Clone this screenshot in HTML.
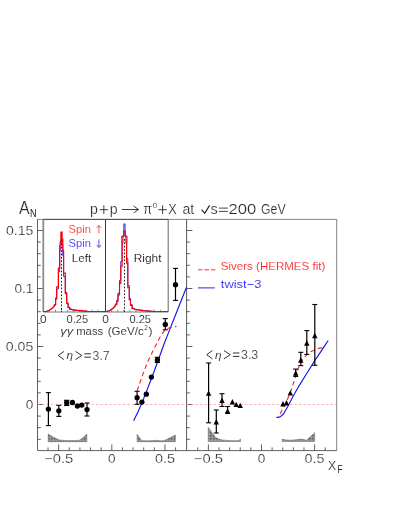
<!DOCTYPE html>
<html><head><meta charset="utf-8"><title>A_N</title>
<style>
html,body{margin:0;padding:0;background:#fff;}
body{width:403px;height:522px;overflow:hidden;}
svg{display:block;will-change:transform;}
text{font-family:"Liberation Sans",sans-serif;}
</style></head><body>
<svg width="403" height="522" viewBox="0 0 403 522">
<rect width="403" height="522" fill="#fff"/>
<g fill="none" stroke-linecap="butt">
<line x1="37.50" y1="219.40" x2="336.70" y2="219.40" stroke="#555" stroke-width="0.7" />
<line x1="37.50" y1="450.60" x2="336.70" y2="450.60" stroke="#3a3a3a" stroke-width="0.8" />
<line x1="37.50" y1="219.40" x2="37.50" y2="450.60" stroke="#3a3a3a" stroke-width="0.8" />
<line x1="186.60" y1="219.40" x2="186.60" y2="450.60" stroke="#3a3a3a" stroke-width="0.85" />
<line x1="336.70" y1="219.40" x2="336.70" y2="450.60" stroke="#555" stroke-width="0.75" />
<line x1="37.50" y1="439.30" x2="40.80" y2="439.30" stroke="#3a3a3a" stroke-width="0.8" />
<line x1="37.50" y1="427.70" x2="40.80" y2="427.70" stroke="#3a3a3a" stroke-width="0.8" />
<line x1="37.50" y1="416.10" x2="40.80" y2="416.10" stroke="#3a3a3a" stroke-width="0.8" />
<line x1="37.50" y1="404.50" x2="43.30" y2="404.50" stroke="#3a3a3a" stroke-width="0.8" />
<line x1="37.50" y1="392.90" x2="40.80" y2="392.90" stroke="#3a3a3a" stroke-width="0.8" />
<line x1="37.50" y1="381.30" x2="40.80" y2="381.30" stroke="#3a3a3a" stroke-width="0.8" />
<line x1="37.50" y1="369.70" x2="40.80" y2="369.70" stroke="#3a3a3a" stroke-width="0.8" />
<line x1="37.50" y1="358.10" x2="40.80" y2="358.10" stroke="#3a3a3a" stroke-width="0.8" />
<line x1="37.50" y1="346.50" x2="43.30" y2="346.50" stroke="#3a3a3a" stroke-width="0.8" />
<line x1="37.50" y1="334.90" x2="40.80" y2="334.90" stroke="#3a3a3a" stroke-width="0.8" />
<line x1="37.50" y1="323.30" x2="40.80" y2="323.30" stroke="#3a3a3a" stroke-width="0.8" />
<line x1="37.50" y1="311.70" x2="40.80" y2="311.70" stroke="#3a3a3a" stroke-width="0.8" />
<line x1="37.50" y1="300.10" x2="40.80" y2="300.10" stroke="#3a3a3a" stroke-width="0.8" />
<line x1="37.50" y1="288.50" x2="43.30" y2="288.50" stroke="#3a3a3a" stroke-width="0.8" />
<line x1="37.50" y1="276.90" x2="40.80" y2="276.90" stroke="#3a3a3a" stroke-width="0.8" />
<line x1="37.50" y1="265.30" x2="40.80" y2="265.30" stroke="#3a3a3a" stroke-width="0.8" />
<line x1="37.50" y1="253.70" x2="40.80" y2="253.70" stroke="#3a3a3a" stroke-width="0.8" />
<line x1="37.50" y1="242.10" x2="40.80" y2="242.10" stroke="#3a3a3a" stroke-width="0.8" />
<line x1="37.50" y1="230.50" x2="43.30" y2="230.50" stroke="#3a3a3a" stroke-width="0.8" />
<line x1="186.60" y1="439.30" x2="189.90" y2="439.30" stroke="#3a3a3a" stroke-width="0.8" />
<line x1="186.60" y1="427.70" x2="189.90" y2="427.70" stroke="#3a3a3a" stroke-width="0.8" />
<line x1="186.60" y1="416.10" x2="189.90" y2="416.10" stroke="#3a3a3a" stroke-width="0.8" />
<line x1="186.60" y1="404.50" x2="192.40" y2="404.50" stroke="#3a3a3a" stroke-width="0.8" />
<line x1="186.60" y1="392.90" x2="189.90" y2="392.90" stroke="#3a3a3a" stroke-width="0.8" />
<line x1="186.60" y1="381.30" x2="189.90" y2="381.30" stroke="#3a3a3a" stroke-width="0.8" />
<line x1="186.60" y1="369.70" x2="189.90" y2="369.70" stroke="#3a3a3a" stroke-width="0.8" />
<line x1="186.60" y1="358.10" x2="189.90" y2="358.10" stroke="#3a3a3a" stroke-width="0.8" />
<line x1="186.60" y1="346.50" x2="192.40" y2="346.50" stroke="#3a3a3a" stroke-width="0.8" />
<line x1="186.60" y1="334.90" x2="189.90" y2="334.90" stroke="#3a3a3a" stroke-width="0.8" />
<line x1="186.60" y1="323.30" x2="189.90" y2="323.30" stroke="#3a3a3a" stroke-width="0.8" />
<line x1="186.60" y1="311.70" x2="189.90" y2="311.70" stroke="#3a3a3a" stroke-width="0.8" />
<line x1="186.60" y1="300.10" x2="189.90" y2="300.10" stroke="#3a3a3a" stroke-width="0.8" />
<line x1="186.60" y1="288.50" x2="192.40" y2="288.50" stroke="#3a3a3a" stroke-width="0.8" />
<line x1="186.60" y1="276.90" x2="189.90" y2="276.90" stroke="#3a3a3a" stroke-width="0.8" />
<line x1="186.60" y1="265.30" x2="189.90" y2="265.30" stroke="#3a3a3a" stroke-width="0.8" />
<line x1="186.60" y1="253.70" x2="189.90" y2="253.70" stroke="#3a3a3a" stroke-width="0.8" />
<line x1="186.60" y1="242.10" x2="189.90" y2="242.10" stroke="#3a3a3a" stroke-width="0.8" />
<line x1="186.60" y1="230.50" x2="192.40" y2="230.50" stroke="#3a3a3a" stroke-width="0.8" />
<line x1="48.02" y1="450.60" x2="48.02" y2="447.40" stroke="#3a3a3a" stroke-width="0.8" />
<line x1="58.65" y1="450.60" x2="58.65" y2="444.40" stroke="#3a3a3a" stroke-width="0.8" />
<line x1="69.28" y1="450.60" x2="69.28" y2="447.40" stroke="#3a3a3a" stroke-width="0.8" />
<line x1="79.91" y1="450.60" x2="79.91" y2="447.40" stroke="#3a3a3a" stroke-width="0.8" />
<line x1="90.54" y1="450.60" x2="90.54" y2="447.40" stroke="#3a3a3a" stroke-width="0.8" />
<line x1="101.17" y1="450.60" x2="101.17" y2="447.40" stroke="#3a3a3a" stroke-width="0.8" />
<line x1="111.80" y1="450.60" x2="111.80" y2="444.40" stroke="#3a3a3a" stroke-width="0.8" />
<line x1="122.43" y1="450.60" x2="122.43" y2="447.40" stroke="#3a3a3a" stroke-width="0.8" />
<line x1="133.06" y1="450.60" x2="133.06" y2="447.40" stroke="#3a3a3a" stroke-width="0.8" />
<line x1="143.69" y1="450.60" x2="143.69" y2="447.40" stroke="#3a3a3a" stroke-width="0.8" />
<line x1="154.32" y1="450.60" x2="154.32" y2="447.40" stroke="#3a3a3a" stroke-width="0.8" />
<line x1="164.95" y1="450.60" x2="164.95" y2="444.40" stroke="#3a3a3a" stroke-width="0.8" />
<line x1="175.58" y1="450.60" x2="175.58" y2="447.40" stroke="#3a3a3a" stroke-width="0.8" />
<line x1="197.78" y1="450.60" x2="197.78" y2="447.40" stroke="#3a3a3a" stroke-width="0.8" />
<line x1="208.40" y1="450.60" x2="208.40" y2="444.40" stroke="#3a3a3a" stroke-width="0.8" />
<line x1="219.02" y1="450.60" x2="219.02" y2="447.40" stroke="#3a3a3a" stroke-width="0.8" />
<line x1="229.64" y1="450.60" x2="229.64" y2="447.40" stroke="#3a3a3a" stroke-width="0.8" />
<line x1="240.26" y1="450.60" x2="240.26" y2="447.40" stroke="#3a3a3a" stroke-width="0.8" />
<line x1="250.88" y1="450.60" x2="250.88" y2="447.40" stroke="#3a3a3a" stroke-width="0.8" />
<line x1="261.50" y1="450.60" x2="261.50" y2="444.40" stroke="#3a3a3a" stroke-width="0.8" />
<line x1="272.12" y1="450.60" x2="272.12" y2="447.40" stroke="#3a3a3a" stroke-width="0.8" />
<line x1="282.74" y1="450.60" x2="282.74" y2="447.40" stroke="#3a3a3a" stroke-width="0.8" />
<line x1="293.36" y1="450.60" x2="293.36" y2="447.40" stroke="#3a3a3a" stroke-width="0.8" />
<line x1="303.98" y1="450.60" x2="303.98" y2="447.40" stroke="#3a3a3a" stroke-width="0.8" />
<line x1="314.60" y1="450.60" x2="314.60" y2="444.40" stroke="#3a3a3a" stroke-width="0.8" />
<line x1="325.22" y1="450.60" x2="325.22" y2="447.40" stroke="#3a3a3a" stroke-width="0.8" />
</g>
<line x1="37.50" y1="404.50" x2="186.60" y2="404.50" stroke="#f89090" stroke-width="0.7" stroke-dasharray="2.25 2.25"/>
<line x1="186.60" y1="404.50" x2="336.70" y2="404.50" stroke="#f89090" stroke-width="0.7" stroke-dasharray="2.25 2.25"/>
<rect x="43.3" y="219.4" width="124.89999999999999" height="92.6" fill="#fff" stroke="none"/>
<line x1="43.30" y1="219.40" x2="43.30" y2="312.00" stroke="#8c8c8c" stroke-width="1.8" />
<line x1="168.20" y1="219.40" x2="168.20" y2="312.00" stroke="#555" stroke-width="0.9" />
<line x1="105.50" y1="219.40" x2="105.50" y2="312.00" stroke="#222" stroke-width="0.9" />
<line x1="43.30" y1="312.00" x2="168.20" y2="312.00" stroke="#555" stroke-width="0.8" />
<line x1="43.30" y1="219.40" x2="168.20" y2="219.40" stroke="#333" stroke-width="0.9" />
<line x1="49.40" y1="312.00" x2="49.40" y2="309.60" stroke="#555" stroke-width="0.6" />
<line x1="55.50" y1="312.00" x2="55.50" y2="309.60" stroke="#555" stroke-width="0.6" />
<line x1="61.60" y1="312.00" x2="61.60" y2="309.60" stroke="#555" stroke-width="0.6" />
<line x1="67.70" y1="312.00" x2="67.70" y2="309.60" stroke="#555" stroke-width="0.6" />
<line x1="73.80" y1="312.00" x2="73.80" y2="308.80" stroke="#555" stroke-width="0.6" />
<line x1="79.90" y1="312.00" x2="79.90" y2="309.60" stroke="#555" stroke-width="0.6" />
<line x1="86.00" y1="312.00" x2="86.00" y2="309.60" stroke="#555" stroke-width="0.6" />
<line x1="92.10" y1="312.00" x2="92.10" y2="309.60" stroke="#555" stroke-width="0.6" />
<line x1="98.20" y1="312.00" x2="98.20" y2="309.60" stroke="#555" stroke-width="0.6" />
<line x1="111.60" y1="312.00" x2="111.60" y2="309.60" stroke="#555" stroke-width="0.6" />
<line x1="117.70" y1="312.00" x2="117.70" y2="309.60" stroke="#555" stroke-width="0.6" />
<line x1="123.80" y1="312.00" x2="123.80" y2="309.60" stroke="#555" stroke-width="0.6" />
<line x1="129.90" y1="312.00" x2="129.90" y2="309.60" stroke="#555" stroke-width="0.6" />
<line x1="136.00" y1="312.00" x2="136.00" y2="308.80" stroke="#555" stroke-width="0.6" />
<line x1="142.10" y1="312.00" x2="142.10" y2="309.60" stroke="#555" stroke-width="0.6" />
<line x1="148.20" y1="312.00" x2="148.20" y2="309.60" stroke="#555" stroke-width="0.6" />
<line x1="154.30" y1="312.00" x2="154.30" y2="309.60" stroke="#555" stroke-width="0.6" />
<line x1="160.40" y1="312.00" x2="160.40" y2="309.60" stroke="#555" stroke-width="0.6" />
<clipPath id="ci"><rect x="43.3" y="217.4" width="124.89999999999999" height="95.39999999999999"/></clipPath>
<g clip-path="url(#ci)" fill="none" stroke-linejoin="miter">
<path d="M43.30,311.50 L46.00,311.50 L48.30,310.77 L49.90,309.94 L51.90,308.75 L54.10,306.93 L54.40,305.19 L55.60,305.19 L55.60,299.33 L56.70,299.33 L56.70,288.99 L58.40,288.99 L58.40,271.70 L59.70,271.70 L59.70,250.65 L60.20,250.65 L60.20,248.09 L60.90,248.09 L60.90,238.76 L62.10,238.76 L62.10,245.16 L62.80,245.16 L62.80,255.69 L63.60,255.69 L63.60,276.46 L65.30,276.46 L65.30,294.12 L66.70,294.12 L66.70,303.72 L68.10,303.72 L68.10,307.75 L69.70,307.75 L69.70,309.30 L71.10,309.30 L73.00,309.94 L77.80,310.49 L82.50,310.95 L88.50,311.50 L105.50,311.50" stroke="#2020ff" stroke-width="0.95"/>
<path d="M43.30,311.50 L46.00,311.50 L48.30,310.70 L49.90,309.80 L51.90,308.50 L54.10,306.50 L54.40,304.60 L55.60,304.60 L55.60,298.20 L56.70,298.20 L56.70,286.90 L58.40,286.90 L58.40,268.00 L59.70,268.00 L59.70,245.00 L60.20,245.00 L60.20,242.20 L60.90,242.20 L60.90,232.00 L62.10,232.00 L62.10,239.00 L62.80,239.00 L62.80,250.50 L63.60,250.50 L63.60,273.20 L65.30,273.20 L65.30,292.50 L66.70,292.50 L66.70,303.00 L68.10,303.00 L68.10,307.40 L69.70,307.40 L69.70,309.10 L71.10,309.10 L73.00,309.80 L77.80,310.40 L82.50,310.90 L88.50,311.50 L105.50,311.50" stroke="#ff0000" stroke-width="1.2"/>
<path d="M105.50,311.50 L106.20,311.50 L108.70,310.80 L110.50,309.90 L112.70,308.10 L114.90,305.90 L115.60,303.70 L116.80,303.70 L116.80,300.20 L118.00,300.20 L118.00,293.10 L119.50,293.10 L119.50,280.50 L120.80,280.50 L120.80,261.30 L122.10,261.30 L122.10,242.50 L121.80,242.50 L121.80,236.00 L123.90,236.00 L123.90,223.90 L125.05,223.90 L125.05,236.00 L127.00,236.00 L127.00,242.50 L126.60,242.50 L126.60,258.50 L127.80,258.50 L127.80,285.50 L129.30,285.50 L129.30,298.50 L130.50,298.50 L130.50,304.60 L132.10,304.60 L132.10,308.20 L133.50,308.20 L135.20,309.20 L140.00,310.10 L145.50,310.80 L154.50,311.50 L168.20,311.50" stroke="#2020ff" stroke-width="0.95"/>
<path d="M105.50,311.50 L106.50,311.50 L109.00,310.90 L110.80,310.10 L113.00,308.50 L115.10,306.50 L115.60,304.60 L116.80,304.60 L116.80,301.40 L118.00,301.40 L118.00,294.90 L119.50,294.90 L119.50,283.30 L120.80,283.30 L120.80,266.10 L122.10,266.10 L122.10,242.10 L122.90,242.10 L122.90,236.50 L123.60,236.50 L123.60,231.10 L125.30,231.10 L125.30,236.50 L125.90,236.50 L125.90,242.50 L126.60,242.50 L126.60,263.20 L127.80,263.20 L127.80,287.70 L129.30,287.70 L129.30,299.80 L130.50,299.80 L130.50,305.40 L132.10,305.40 L132.10,308.60 L133.50,308.60 L135.00,309.40 L139.80,310.20 L145.50,310.80 L154.50,311.50 L168.20,311.50" stroke="#ff0000" stroke-width="1.2"/>
</g>
<line x1="61.50" y1="240.00" x2="61.50" y2="312.00" stroke="#222" stroke-width="1.0" stroke-dasharray="1.7 1.7"/>
<line x1="124.50" y1="239.00" x2="124.50" y2="312.00" stroke="#222" stroke-width="1.0" stroke-dasharray="1.7 1.7"/>
<text x="68.60" y="233.30" font-size="11.4" fill="#ff3030" text-anchor="start" textLength="22.30" lengthAdjust="spacingAndGlyphs"  stroke="#fff" stroke-width="0.1">Spin</text>
<text x="68.60" y="247.30" font-size="11.4" fill="#3030ff" text-anchor="start" textLength="22.30" lengthAdjust="spacingAndGlyphs"  stroke="#fff" stroke-width="0.1">Spin</text>
<text x="71.70" y="261.60" font-size="11.3" fill="#151515" text-anchor="start" textLength="19.50" lengthAdjust="spacingAndGlyphs"  stroke="#fff" stroke-width="0.1">Left</text>
<text x="133.70" y="261.50" font-size="11.3" fill="#151515" text-anchor="start" textLength="27.80" lengthAdjust="spacingAndGlyphs"  stroke="#fff" stroke-width="0.1">Right</text>
<g stroke="#ff4040" stroke-width="0.9" fill="none">
<line x1="98.9" y1="225.3" x2="98.9" y2="233.4"/>
<path d="M96.7,227.9 L98.9,225.3 L101.10000000000001,227.9"/>
</g>
<g stroke="#4040ff" stroke-width="0.9" fill="none">
<line x1="98.9" y1="239.3" x2="98.9" y2="247.5"/>
<path d="M96.7,244.9 L98.9,247.5 L101.10000000000001,244.9"/>
</g>
<text x="43.20" y="322.50" font-size="10.4" fill="#262626" text-anchor="middle" textLength="6.60" lengthAdjust="spacingAndGlyphs"  stroke="#fff" stroke-width="0.1">0</text>
<text x="77.30" y="322.50" font-size="10.4" fill="#262626" text-anchor="middle" textLength="21.60" lengthAdjust="spacingAndGlyphs"  stroke="#fff" stroke-width="0.1">0.25</text>
<text x="105.60" y="322.50" font-size="10.4" fill="#262626" text-anchor="middle" textLength="6.60" lengthAdjust="spacingAndGlyphs"  stroke="#fff" stroke-width="0.1">0</text>
<text x="140.20" y="322.50" font-size="10.4" fill="#262626" text-anchor="middle" textLength="21.60" lengthAdjust="spacingAndGlyphs"  stroke="#fff" stroke-width="0.1">0.25</text>
<text x="60.30" y="334.50" font-size="10.6" fill="#262626" text-anchor="start" textLength="13.00" lengthAdjust="spacingAndGlyphs" font-style="italic" stroke="#fff" stroke-width="0.1">γγ</text>
<text x="76.20" y="334.50" font-size="10.6" fill="#262626" text-anchor="start" textLength="27.00" lengthAdjust="spacingAndGlyphs"  stroke="#fff" stroke-width="0.1">mass</text>
<text x="107.70" y="334.50" font-size="10.6" fill="#262626" text-anchor="start" textLength="36.00" lengthAdjust="spacingAndGlyphs"  stroke="#fff" stroke-width="0.1">(GeV/c</text>
<text x="144.20" y="330.30" font-size="6.4" fill="#262626" text-anchor="start" textLength="3.60" lengthAdjust="spacingAndGlyphs"  stroke="#fff" stroke-width="0.1">2</text>
<text x="148.60" y="334.50" font-size="10.6" fill="#262626" text-anchor="start" textLength="4.00" lengthAdjust="spacingAndGlyphs"  stroke="#fff" stroke-width="0.1">)</text>
<g stroke="#262626" stroke-width="0.95" fill="none" stroke-linejoin="miter">
<path d="M63.90,351.40 L58.20,355.50 L63.90,359.60"/>
<path d="M75.50,351.40 L81.80,355.50 L75.50,359.60"/>
<path d="M84.40,353.80 H90.90 M84.40,357.20 H90.90"/>
</g>
<text x="66.50" y="359.30" font-size="11.0" fill="#262626" text-anchor="start" textLength="6.60" lengthAdjust="spacingAndGlyphs" font-style="italic" stroke="#fff" stroke-width="0.1">η</text>
<text x="92.50" y="359.60" font-size="12.0" fill="#262626" text-anchor="start" textLength="17.20" lengthAdjust="spacingAndGlyphs"  stroke="#fff" stroke-width="0.22">3.7</text>
<g stroke="#262626" stroke-width="0.95" fill="none" stroke-linejoin="miter">
<path d="M212.40,350.60 L206.70,354.70 L212.40,358.80"/>
<path d="M224.00,350.60 L230.30,354.70 L224.00,358.80"/>
<path d="M232.90,353.00 H239.40 M232.90,356.40 H239.40"/>
</g>
<text x="215.00" y="358.50" font-size="11.0" fill="#262626" text-anchor="start" textLength="6.60" lengthAdjust="spacingAndGlyphs" font-style="italic" stroke="#fff" stroke-width="0.1">η</text>
<text x="241.00" y="358.80" font-size="12.0" fill="#262626" text-anchor="start" textLength="17.20" lengthAdjust="spacingAndGlyphs"  stroke="#fff" stroke-width="0.22">3.3</text>
<line x1="197.90" y1="269.80" x2="215.40" y2="269.80" stroke="#ff3030" stroke-width="1.0" stroke-dasharray="4.6 1.9"/>
<text x="220.80" y="269.80" font-size="11.0" fill="#ff2020" text-anchor="start" textLength="104.50" lengthAdjust="spacingAndGlyphs"  stroke="#fff" stroke-width="0.1">Sivers (HERMES fit)</text>
<line x1="197.90" y1="287.90" x2="214.80" y2="287.90" stroke="#2828e8" stroke-width="1.0" />
<text x="220.80" y="288.30" font-size="11.0" fill="#2020ff" text-anchor="start" textLength="40.60" lengthAdjust="spacingAndGlyphs"  stroke="#fff" stroke-width="0.1">twist−3</text>
<path d="M133.6,420.7 L137.9,412.0 L141.9,402.9 L146.4,391.6 L150.9,380.0 L157.4,362.5 L163.4,345.8 L169.0,331.4 L175.0,316.3 L186.5,287.3" fill="none" stroke="#0c0cf4" stroke-width="1.1" stroke-linejoin="round" />
<path d="M137.1,390.9 L142.2,376.2 L147.4,362.4 L153.4,350.0 L157.4,342.2 L161.0,335.3 L165.2,329.6 L170.0,327.6 L176.5,326.4" fill="none" stroke="#ff2020" stroke-width="1.1" stroke-linejoin="round" stroke-dasharray="4.6 3.2"/>
<path d="M276.2,417.2 L278.2,417.4 L280.2,416.8 L283.4,414.0 L287.9,406.2 L293.8,395.0 L299.8,384.6 L307.2,372.7 L314.9,360.4 L321.0,351.4 L328.2,340.5" fill="none" stroke="#0c0cf4" stroke-width="1.1" stroke-linejoin="round" />
<path d="M280.1,413.9 L284.9,404.7 L290.1,393.5 L295.3,377.4 L298.4,368.0 L301.5,361.5 L304.5,357.0 L310.6,351.7 L318.3,348.4 L325.5,347.0" fill="none" stroke="#ff2020" stroke-width="1.1" stroke-linejoin="round" stroke-dasharray="4.6 3.2"/>
<line x1="48.40" y1="392.60" x2="48.40" y2="425.60" stroke="#000" stroke-width="1.2" />
<line x1="45.90" y1="392.60" x2="50.90" y2="392.60" stroke="#000" stroke-width="1.1" />
<line x1="45.90" y1="425.60" x2="50.90" y2="425.60" stroke="#000" stroke-width="1.1" />
<line x1="58.80" y1="405.30" x2="58.80" y2="416.40" stroke="#000" stroke-width="1.2" />
<line x1="56.30" y1="405.30" x2="61.30" y2="405.30" stroke="#000" stroke-width="1.1" />
<line x1="56.30" y1="416.40" x2="61.30" y2="416.40" stroke="#000" stroke-width="1.1" />
<line x1="66.70" y1="400.30" x2="66.70" y2="405.50" stroke="#000" stroke-width="1.2" />
<line x1="64.00" y1="400.30" x2="69.40" y2="400.30" stroke="#000" stroke-width="1.1" />
<line x1="64.00" y1="405.50" x2="69.40" y2="405.50" stroke="#000" stroke-width="1.1" />
<line x1="87.00" y1="403.00" x2="87.00" y2="416.00" stroke="#000" stroke-width="1.2" />
<line x1="84.50" y1="403.00" x2="89.50" y2="403.00" stroke="#000" stroke-width="1.1" />
<line x1="84.50" y1="416.00" x2="89.50" y2="416.00" stroke="#000" stroke-width="1.1" />
<circle cx="48.4" cy="409.1" r="2.65" fill="#000"/>
<circle cx="58.8" cy="410.8" r="2.65" fill="#000"/>
<circle cx="66.7" cy="402.7" r="2.65" fill="#000"/>
<circle cx="72.4" cy="402.5" r="2.65" fill="#000"/>
<circle cx="77.4" cy="406.0" r="2.65" fill="#000"/>
<circle cx="81.8" cy="405.1" r="2.65" fill="#000"/>
<circle cx="87.0" cy="409.6" r="2.65" fill="#000"/>
<line x1="137.10" y1="391.30" x2="137.10" y2="404.30" stroke="#000" stroke-width="1.2" />
<line x1="134.60" y1="391.30" x2="139.60" y2="391.30" stroke="#000" stroke-width="1.1" />
<line x1="134.60" y1="404.30" x2="139.60" y2="404.30" stroke="#000" stroke-width="1.1" />
<line x1="157.40" y1="357.30" x2="157.40" y2="362.50" stroke="#000" stroke-width="1.2" />
<line x1="154.70" y1="357.30" x2="160.10" y2="357.30" stroke="#000" stroke-width="1.1" />
<line x1="154.70" y1="362.50" x2="160.10" y2="362.50" stroke="#000" stroke-width="1.1" />
<line x1="165.30" y1="318.60" x2="165.30" y2="329.80" stroke="#000" stroke-width="1.2" />
<line x1="162.80" y1="318.60" x2="167.80" y2="318.60" stroke="#000" stroke-width="1.1" />
<line x1="162.80" y1="329.80" x2="167.80" y2="329.80" stroke="#000" stroke-width="1.1" />
<line x1="175.50" y1="268.40" x2="175.50" y2="300.40" stroke="#000" stroke-width="1.2" />
<line x1="173.00" y1="268.40" x2="178.00" y2="268.40" stroke="#000" stroke-width="1.1" />
<line x1="173.00" y1="300.40" x2="178.00" y2="300.40" stroke="#000" stroke-width="1.1" />
<circle cx="137.1" cy="397.7" r="2.65" fill="#000"/>
<circle cx="141.9" cy="402.1" r="2.65" fill="#000"/>
<circle cx="146.3" cy="394.2" r="2.65" fill="#000"/>
<circle cx="151.4" cy="377.1" r="2.65" fill="#000"/>
<circle cx="157.4" cy="359.9" r="2.65" fill="#000"/>
<circle cx="165.3" cy="324.4" r="2.65" fill="#000"/>
<circle cx="175.5" cy="284.7" r="2.65" fill="#000"/>
<line x1="208.60" y1="363.00" x2="208.60" y2="422.80" stroke="#000" stroke-width="1.2" />
<line x1="206.10" y1="363.00" x2="211.10" y2="363.00" stroke="#000" stroke-width="1.1" />
<line x1="206.10" y1="422.80" x2="211.10" y2="422.80" stroke="#000" stroke-width="1.1" />
<line x1="216.30" y1="410.00" x2="216.30" y2="433.00" stroke="#000" stroke-width="1.2" />
<line x1="213.80" y1="410.00" x2="218.80" y2="410.00" stroke="#000" stroke-width="1.1" />
<line x1="213.80" y1="433.00" x2="218.80" y2="433.00" stroke="#000" stroke-width="1.1" />
<line x1="222.00" y1="393.70" x2="222.00" y2="406.50" stroke="#000" stroke-width="1.2" />
<line x1="219.50" y1="393.70" x2="224.50" y2="393.70" stroke="#000" stroke-width="1.1" />
<line x1="219.50" y1="406.50" x2="224.50" y2="406.50" stroke="#000" stroke-width="1.1" />
<line x1="227.60" y1="406.50" x2="227.60" y2="413.40" stroke="#000" stroke-width="1.2" />
<line x1="225.10" y1="406.50" x2="230.10" y2="406.50" stroke="#000" stroke-width="1.1" />
<line x1="225.10" y1="413.40" x2="230.10" y2="413.40" stroke="#000" stroke-width="1.1" />
<path d="M205.90,395.80 L211.30,395.80 L208.60,390.40 Z" fill="#000"/>
<path d="M213.60,424.50 L219.00,424.50 L216.30,419.10 Z" fill="#000"/>
<path d="M219.30,402.90 L224.70,402.90 L222.00,397.50 Z" fill="#000"/>
<path d="M224.90,413.60 L230.30,413.60 L227.60,408.20 Z" fill="#000"/>
<path d="M229.70,404.40 L235.10,404.40 L232.40,399.00 Z" fill="#000"/>
<path d="M233.50,407.10 L238.90,407.10 L236.20,401.70 Z" fill="#000"/>
<path d="M237.50,408.10 L242.90,408.10 L240.20,402.70 Z" fill="#000"/>
<line x1="295.70" y1="369.10" x2="295.70" y2="376.40" stroke="#000" stroke-width="1.2" />
<line x1="293.20" y1="369.10" x2="298.20" y2="369.10" stroke="#000" stroke-width="1.1" />
<line x1="293.20" y1="376.40" x2="298.20" y2="376.40" stroke="#000" stroke-width="1.1" />
<line x1="300.80" y1="352.30" x2="300.80" y2="365.60" stroke="#000" stroke-width="1.2" />
<line x1="298.30" y1="352.30" x2="303.30" y2="352.30" stroke="#000" stroke-width="1.1" />
<line x1="298.30" y1="365.60" x2="303.30" y2="365.60" stroke="#000" stroke-width="1.1" />
<line x1="306.80" y1="330.60" x2="306.80" y2="354.40" stroke="#000" stroke-width="1.2" />
<line x1="304.30" y1="330.60" x2="309.30" y2="330.60" stroke="#000" stroke-width="1.1" />
<line x1="304.30" y1="354.40" x2="309.30" y2="354.40" stroke="#000" stroke-width="1.1" />
<line x1="314.80" y1="304.50" x2="314.80" y2="365.30" stroke="#000" stroke-width="1.2" />
<line x1="312.30" y1="304.50" x2="317.30" y2="304.50" stroke="#000" stroke-width="1.1" />
<line x1="312.30" y1="365.30" x2="317.30" y2="365.30" stroke="#000" stroke-width="1.1" />
<path d="M280.30,406.50 L285.70,406.50 L283.00,401.10 Z" fill="#000"/>
<path d="M283.80,405.50 L289.20,405.50 L286.50,400.10 Z" fill="#000"/>
<path d="M287.60,395.60 L293.00,395.60 L290.30,390.20 Z" fill="#000"/>
<path d="M293.00,375.70 L298.40,375.70 L295.70,370.30 Z" fill="#000"/>
<path d="M298.10,362.70 L303.50,362.70 L300.80,357.30 Z" fill="#000"/>
<path d="M304.10,345.70 L309.50,345.70 L306.80,340.30 Z" fill="#000"/>
<path d="M312.10,338.20 L317.50,338.20 L314.80,332.80 Z" fill="#000"/>
<defs><pattern id="hat" width="1.5" height="1.5" patternUnits="userSpaceOnUse"><rect width="1.5" height="1.5" fill="#a0a0a0"/><rect width="0.8" height="0.8" fill="#4a4a4a"/></pattern></defs>
<path d="M48.2,441.7 L48.2,433.9 L53.5,437.2 L59.4,440.0 L66.0,440.5 L76.0,440.6 L79.5,440.2 L83.2,437.6 L86.9,433.9 L86.9,441.7 Z" fill="url(#hat)" stroke="#666" stroke-width="0.5"/>
<path d="M137.1,441.7 L137.1,434.3 L139.4,437.6 L141.9,440.7 L150.0,440.8 L156.0,440.3 L161.0,440.8 L164.2,440.6 L169.5,438.0 L175.4,435.1 L175.4,441.7 Z" fill="url(#hat)" stroke="#666" stroke-width="0.5"/>
<path d="M208.2,441.5 L208.2,427.2 L211.9,432.4 L215.6,437.6 L218.8,439.0 L222.3,439.9 L228.0,440.5 L234.0,440.7 L238.7,440.5 L240.5,439.1 L240.5,441.5 Z" fill="url(#hat)" stroke="#666" stroke-width="0.5"/>
<path d="M282.2,441.4 L282.2,439.1 L285.0,439.8 L290.0,440.2 L296.0,439.8 L300.5,439.1 L304.0,439.6 L306.5,440.2 L310.5,436.6 L314.7,432.7 L314.7,441.4 Z" fill="url(#hat)" stroke="#666" stroke-width="0.5"/>
<text x="33.40" y="235.10" font-size="12.4" fill="#262626" text-anchor="end" textLength="27.40" lengthAdjust="spacingAndGlyphs"  stroke="#fff" stroke-width="0.22">0.15</text>
<text x="33.40" y="293.10" font-size="12.4" fill="#262626" text-anchor="end" textLength="19.00" lengthAdjust="spacingAndGlyphs"  stroke="#fff" stroke-width="0.22">0.1</text>
<text x="33.40" y="351.10" font-size="12.4" fill="#262626" text-anchor="end" textLength="27.60" lengthAdjust="spacingAndGlyphs"  stroke="#fff" stroke-width="0.22">0.05</text>
<text x="33.40" y="409.10" font-size="12.4" fill="#262626" text-anchor="end" textLength="7.60" lengthAdjust="spacingAndGlyphs"  stroke="#fff" stroke-width="0.22">0</text>
<text x="58.65" y="463.20" font-size="12.4" fill="#262626" text-anchor="middle" textLength="29.20" lengthAdjust="spacingAndGlyphs"  stroke="#fff" stroke-width="0.22">−0.5</text>
<text x="111.80" y="463.20" font-size="12.4" fill="#262626" text-anchor="middle" textLength="7.60" lengthAdjust="spacingAndGlyphs"  stroke="#fff" stroke-width="0.22">0</text>
<text x="164.95" y="463.20" font-size="12.4" fill="#262626" text-anchor="middle" textLength="20.00" lengthAdjust="spacingAndGlyphs"  stroke="#fff" stroke-width="0.22">0.5</text>
<text x="208.40" y="463.20" font-size="12.4" fill="#262626" text-anchor="middle" textLength="29.20" lengthAdjust="spacingAndGlyphs"  stroke="#fff" stroke-width="0.22">−0.5</text>
<text x="261.50" y="463.20" font-size="12.4" fill="#262626" text-anchor="middle" textLength="7.60" lengthAdjust="spacingAndGlyphs"  stroke="#fff" stroke-width="0.22">0</text>
<text x="314.60" y="463.20" font-size="12.4" fill="#262626" text-anchor="middle" textLength="20.00" lengthAdjust="spacingAndGlyphs"  stroke="#fff" stroke-width="0.22">0.5</text>
<text x="328.00" y="469.80" font-size="12.4" fill="#111" text-anchor="start" textLength="8.20" lengthAdjust="spacingAndGlyphs"  stroke="#fff" stroke-width="0.22">X</text>
<text x="337.60" y="472.90" font-size="10.4" fill="#222" text-anchor="start" textLength="5.00" lengthAdjust="spacingAndGlyphs" stroke="none">F</text>
<text x="19.00" y="213.50" font-size="18.4" fill="#262626" text-anchor="start" textLength="10.60" lengthAdjust="spacingAndGlyphs"  stroke="#fff" stroke-width="0.22">A</text>
<text x="30.00" y="216.90" font-size="10.2" fill="#222" text-anchor="start" textLength="6.50" lengthAdjust="spacingAndGlyphs" stroke="none">N</text>
<text x="89.90" y="214.40" font-size="13.8" fill="#262626" text-anchor="start" textLength="7.90" lengthAdjust="spacingAndGlyphs"  stroke="#fff" stroke-width="0.22">p</text>
<path d="M99.7,209.7 H108.0 M103.85,205.4 V214.0" stroke="#262626" stroke-width="0.9" fill="none"/>
<text x="109.70" y="214.40" font-size="13.8" fill="#262626" text-anchor="start" textLength="7.90" lengthAdjust="spacingAndGlyphs"  stroke="#fff" stroke-width="0.22">p</text>
<g stroke="#262626" stroke-width="0.9" fill="none"><line x1="121.9" y1="209.5" x2="138.3" y2="209.5"/><path d="M133.6,206.0 L138.5,209.5 L133.6,213.0"/></g>
<text x="143.20" y="214.40" font-size="13.8" fill="#262626" text-anchor="start" textLength="8.80" lengthAdjust="spacingAndGlyphs"  stroke="#fff" stroke-width="0.22">π</text>
<text x="152.50" y="208.20" font-size="7.4" fill="#262626" text-anchor="start" textLength="4.80" lengthAdjust="spacingAndGlyphs"  stroke="#fff" stroke-width="0.1">0</text>
<path d="M158.4,209.7 H166.8 M162.6,205.4 V214.0" stroke="#262626" stroke-width="0.9" fill="none"/>
<text x="168.30" y="214.40" font-size="13.8" fill="#262626" text-anchor="start" textLength="8.40" lengthAdjust="spacingAndGlyphs"  stroke="#fff" stroke-width="0.22">X</text>
<text x="182.40" y="214.40" font-size="13.8" fill="#262626" text-anchor="start" textLength="11.80" lengthAdjust="spacingAndGlyphs"  stroke="#fff" stroke-width="0.22">at</text>
<path d="M201.6,209.6 L204.7,213.3 L209.6,205.4" stroke="#262626" stroke-width="1.2" fill="none" stroke-linejoin="miter"/>
<text x="210.60" y="214.40" font-size="13.8" fill="#262626" text-anchor="start" textLength="7.20" lengthAdjust="spacingAndGlyphs"  stroke="#fff" stroke-width="0.22">s</text>
<path d="M218.9,208.1 H227.9 M218.9,211.4 H227.9" stroke="#262626" stroke-width="0.85" fill="none"/>
<text x="228.50" y="214.40" font-size="13.8" fill="#262626" text-anchor="start" textLength="27.80" lengthAdjust="spacingAndGlyphs"  stroke="#fff" stroke-width="0.22">200</text>
<text x="261.00" y="214.40" font-size="13.8" fill="#262626" text-anchor="start" textLength="24.70" lengthAdjust="spacingAndGlyphs"  stroke="#fff" stroke-width="0.22">GeV</text>
</svg>
</body></html>
